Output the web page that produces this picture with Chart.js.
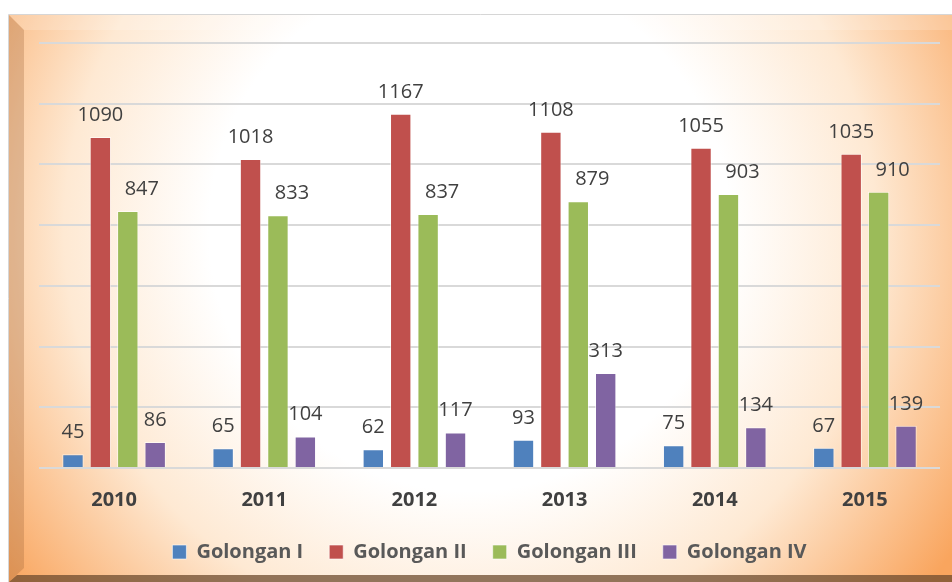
<!DOCTYPE html>
<html>
<head>
<meta charset="utf-8">
<script src="https://cdn.jsdelivr.net/npm/chart.js@4/dist/chart.umd.min.js"></script>
<style>
  html, body { margin: 0; padding: 0; background: #fff; }
  #wrap { width: 952px; height: 582px; position: relative; }
</style>
</head>
<body>
<div id="wrap"><canvas id="chart" width="952" height="582"></canvas></div>
<script>
// data
const years = ['2010', '2011', '2012', '2013', '2014', '2015'];
const golonganI = [45, 65, 62, 93, 75, 67];
const golonganII = [1090, 1018, 1167, 1108, 1055, 1035];
const golonganIII = [847, 833, 837, 879, 903, 910];
const golonganIV = [86, 104, 117, 313, 134, 139];
const seriesNames = ['Golongan I', 'Golongan II', 'Golongan III', 'Golongan IV'];
const seriesColors = ['#4f81bd', '#c0504d', '#9bbb59', '#8064a2'];
const yTicks = [0, 200, 400, 600, 800, 1000, 1200, 1400];

const FONT = '"Open Sans", "DejaVu Sans", sans-serif';

/* ===== framed background with orange glow ===== */
const framePlugin = {
  id: 'frame',
  beforeDraw(chart) {
    const c = chart.ctx, W = chart.width, H = chart.height;
    c.save();
    c.fillStyle = '#ffffff';
    c.fillRect(0, 0, W, H);
    const g = c.createRadialGradient(470, 230, 0, 470, 230, 580);
    g.addColorStop(0, '#ffffff');
    g.addColorStop(0.45, '#ffffff');
    g.addColorStop(0.7, '#fee9d3');
    g.addColorStop(1, '#f9a55e');
    c.fillStyle = g;
    c.fillRect(9, 15, W - 9, H - 15);
    // left bevel
    c.fillStyle = 'rgba(150, 95, 50, 0.28)';
    c.beginPath();
    c.moveTo(9, 15); c.lineTo(24, 30); c.lineTo(24, 568); c.lineTo(9, 582);
    c.closePath(); c.fill();
    // top bevel
    c.fillStyle = 'rgba(255, 255, 255, 0.18)';
    c.beginPath();
    c.moveTo(9, 15); c.lineTo(W, 15); c.lineTo(W, 30); c.lineTo(24, 30);
    c.closePath(); c.fill();
    // bottom bevel
    c.fillStyle = 'rgba(110, 75, 45, 0.75)';
    c.beginPath();
    c.moveTo(9, 582); c.lineTo(17, 575); c.lineTo(W, 575); c.lineTo(W, 582);
    c.closePath(); c.fill();
    // outer border
    c.strokeStyle = '#d6d6d6';
    c.lineWidth = 1;
    c.beginPath();
    c.moveTo(8.5, H); c.lineTo(8.5, 14.5); c.lineTo(W, 14.5);
    c.stroke();
    c.restore();
  }
};

/* ===== value labels above bars ===== */
const labelShift = [0, 0, 14, 0];
const valueLabels = {
  id: 'valueLabels',
  afterDatasetsDraw(chart) {
    const c = chart.ctx;
    c.save();
    c.font = '20px ' + FONT;
    c.fillStyle = '#404040';
    c.textAlign = 'center';
    c.textBaseline = 'alphabetic';
    chart.data.datasets.forEach((ds, i) => {
      chart.getDatasetMeta(i).data.forEach((bar, j) => {
        c.fillText(String(ds.data[j]), bar.x + labelShift[i], bar.y - 16);
      });
    });
    c.restore();
  }
};

const allSeries = [golonganI, golonganII, golonganIII, golonganIV];

new Chart(document.getElementById('chart'), {
  type: 'bar',
  data: {
    labels: years,
    datasets: allSeries.map((vals, i) => ({
      label: seriesNames[i],
      data: vals,
      backgroundColor: seriesColors[i],
      borderColor: 'rgba(255,255,255,0.6)',
      borderWidth: 1,
      categoryPercentage: 0.73,
      barPercentage: 0.78
    }))
  },
  options: {
    responsive: false,
    animation: false,
    devicePixelRatio: 1,
    layout: { padding: { left: 39, right: 12, top: 43, bottom: 10 } },
    scales: {
      y: {
        min: 0,
        max: 1400,
        afterBuildTicks(axis) { axis.ticks = yTicks.map(v => ({ value: v })); },
        ticks: { display: false },
        border: { display: false },
        grid: { color: '#d9d9d9', lineWidth: 2, drawTicks: false }
      },
      x: {
        grid: { display: false },
        border: { display: false },
        afterFit(axis) { axis.height -= 8; },
        ticks: {
          color: '#404040',
          font: { family: FONT, size: 20, weight: 'bold' },
          padding: 12
        }
      }
    },
    plugins: {
      legend: {
        position: 'bottom',
        labels: {
          color: '#595959',
          font: { family: FONT, size: 20, weight: 'bold' },
          boxWidth: 14,
          boxHeight: 14,
          padding: 26
        }
      },
      tooltip: { enabled: false }
    }
  },
  plugins: [framePlugin, valueLabels]
});
</script>
</body>
</html>
